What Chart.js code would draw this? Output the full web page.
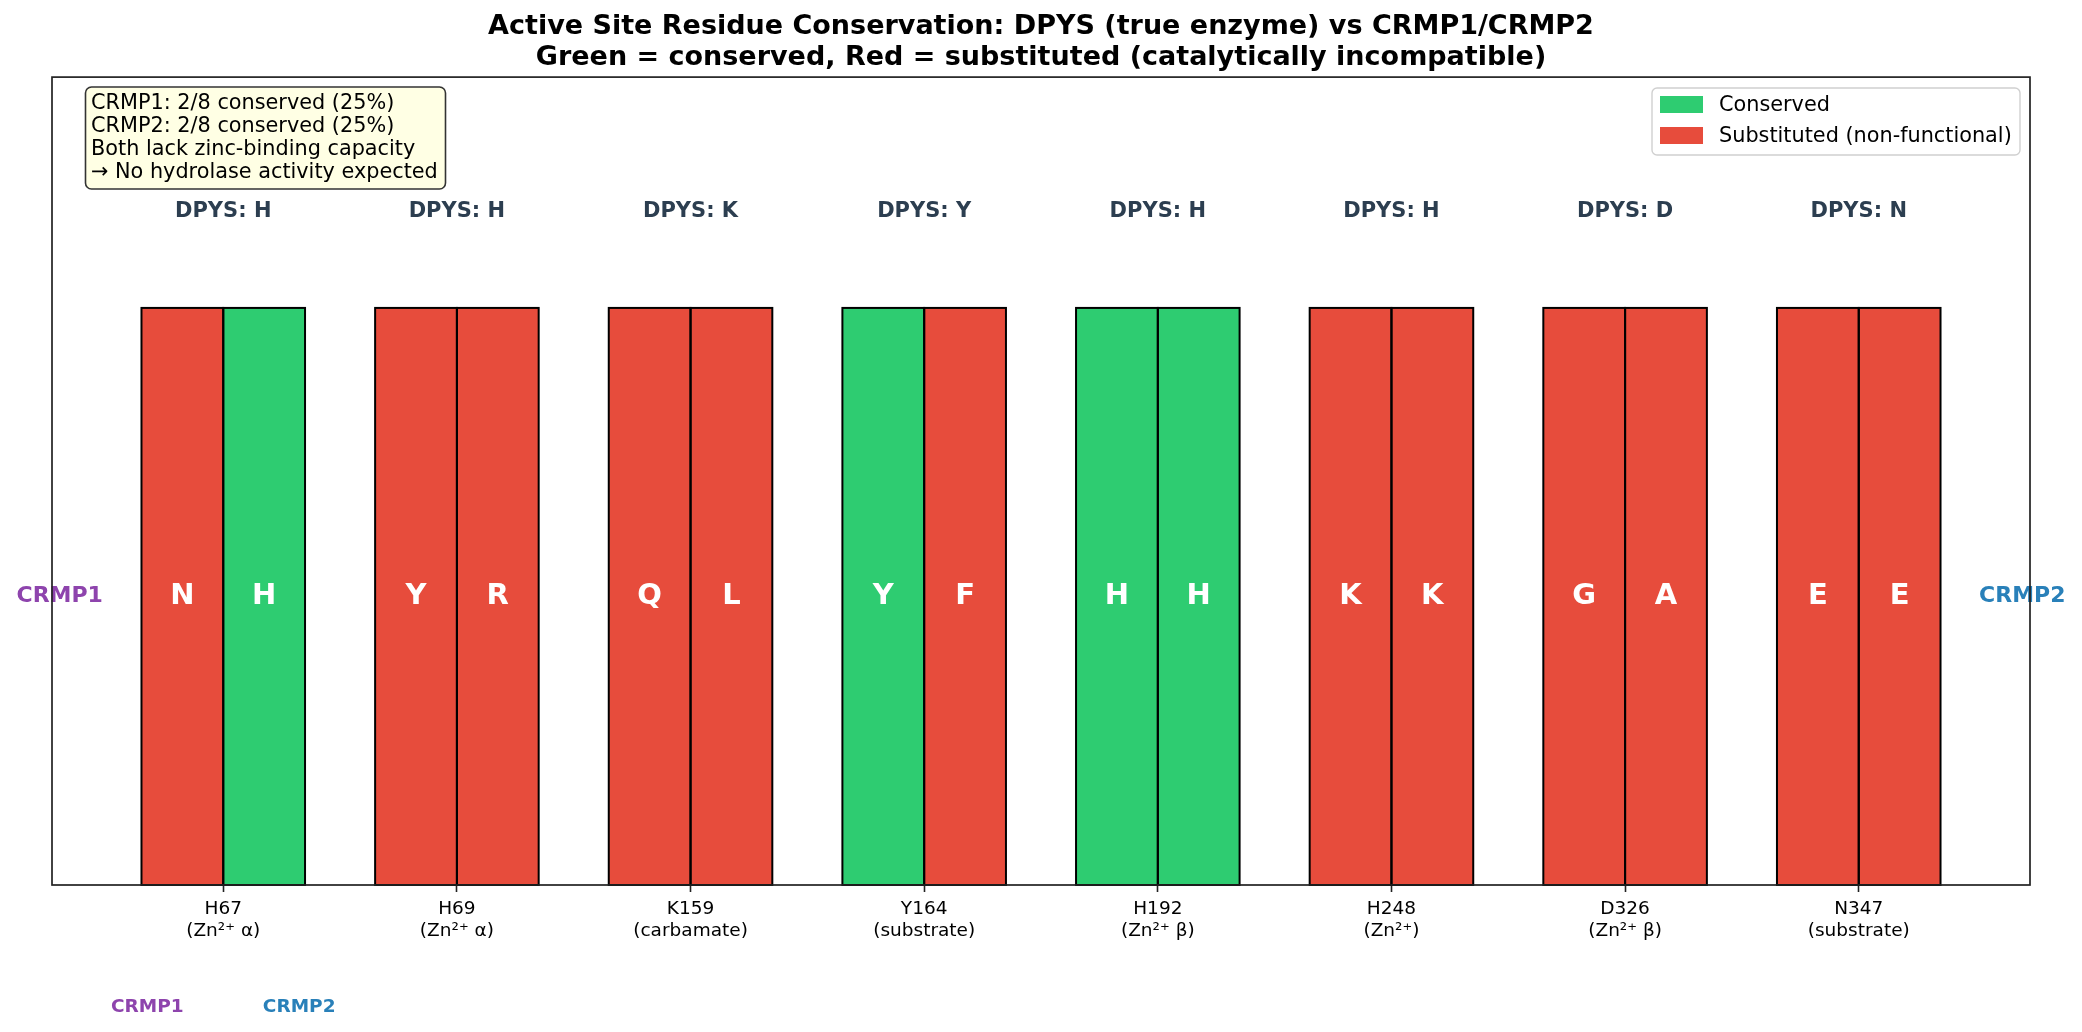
<!DOCTYPE html>
<html>
<head>
<meta charset="utf-8">
<script src="https://cdn.jsdelivr.net/npm/chart.js@4/dist/chart.umd.min.js"></script>
<style>
  html, body { margin: 0; padding: 0; background: #fff; }
  #wrap { width: 2082px; height: 1032px; }
</style>
</head>
<body>
<div id="wrap"><canvas id="chart" width="2082" height="1032"></canvas></div>
<script>
// residues of the DPYS active site and what CRMP1 / CRMP2 carry there
const RESIDUES = ['H67', 'H69', 'K159', 'Y164', 'H192', 'H248', 'D326', 'N347'];
const ROLES = ['(Zn²⁺ α)', '(Zn²⁺ α)', '(carbamate)', '(substrate)', '(Zn²⁺ β)', '(Zn²⁺)', '(Zn²⁺ β)', '(substrate)'];
const DPYS = ['H', 'H', 'K', 'Y', 'H', 'H', 'D', 'N'];
const CRMP1 = ['N', 'Y', 'Q', 'Y', 'H', 'K', 'G', 'E'];
const CRMP2 = ['H', 'R', 'L', 'F', 'H', 'K', 'A', 'E'];
const CRMP1_HEIGHT = [1, 1, 1, 1, 1, 1, 1, 1];
const CRMP2_HEIGHT = [1, 1, 1, 1, 1, 1, 1, 1];

const SUMMARY = [
    'CRMP1: 2/8 conserved (25%)',
    'CRMP2: 2/8 conserved (25%)',
    'Both lack zinc-binding capacity',
    '→ No hydrolase activity expected',
];
const LEGEND_LABELS = ['Conserved', 'Substituted (non-functional)'];

const GREEN = '#2ecc71';
const RED = '#e74c3c';
const PURPLE = '#8e44ad';
const BLUE = '#2980b9';
const NAVY = '#2c3e50';
const FONT = "'DejaVu Sans', sans-serif";

const colorFor = (seq) => seq.map((aa, i) => aa === DPYS[i] ? GREEN : RED);

const annotations = {
    id: 'annotations',
    afterDatasetsDraw(chart) {
        const ctx = chart.ctx;
        const x = chart.scales.x;
        const y = chart.scales.y;
        const meta1 = chart.getDatasetMeta(0);
        const meta2 = chart.getDatasetMeta(1);
        ctx.save();

        // bar outlines centred on the edges, so neighbours share one line
        ctx.strokeStyle = '#000';
        ctx.lineWidth = 2;
        [meta1, meta2].forEach(meta => meta.data.forEach(bar => {
            ctx.strokeRect(bar.x - bar.width / 2, bar.y, bar.width, bar.base - bar.y);
        }));

        ctx.textAlign = 'center';
        ctx.textBaseline = 'middle';

        // residue letters inside the bars
        ctx.fillStyle = '#fff';
        ctx.font = `bold 29px ${FONT}`;
        meta1.data.forEach((bar, i) => ctx.fillText(CRMP1[i], bar.x, y.getPixelForValue(0.5)));
        meta2.data.forEach((bar, i) => ctx.fillText(CRMP2[i], bar.x, y.getPixelForValue(0.5)));

        // DPYS residue over each pair
        ctx.fillStyle = NAVY;
        ctx.font = `bold 21px ${FONT}`;
        DPYS.forEach((aa, i) => ctx.fillText('DPYS: ' + aa, x.getPixelForValue(i), y.getPixelForValue(1.167)));

        // side labels
        ctx.font = `bold 22px ${FONT}`;
        ctx.fillStyle = PURPLE;
        ctx.fillText('CRMP1', x.getPixelForValue(-0.7), y.getPixelForValue(0.5));
        ctx.fillStyle = BLUE;
        ctx.fillText('CRMP2', x.getPixelForValue(7.7), y.getPixelForValue(0.5));

        // labels under the first pair
        ctx.font = `bold 18.5px ${FONT}`;
        ctx.fillStyle = PURPLE;
        ctx.fillText('CRMP1', x.getPixelForValue(-0.325), y.getPixelForValue(-0.211));
        ctx.fillStyle = BLUE;
        ctx.fillText('CRMP2', x.getPixelForValue(0.325), y.getPixelForValue(-0.211));
        ctx.restore();
    },
    afterDraw(chart) {
        const ctx = chart.ctx;
        const a = chart.chartArea;
        ctx.save();

        // axes frame
        ctx.strokeStyle = '#222';
        ctx.lineWidth = 1.7;
        ctx.strokeRect(a.left, a.top, a.right - a.left, a.bottom - a.top);

        // summary box
        const roundBox = (bx, by, bw, bh, r) => {
            ctx.beginPath();
            ctx.roundRect(bx, by, bw, bh, r);
            ctx.fill();
            ctx.stroke();
        };
        ctx.fillStyle = '#ffffe4';
        ctx.strokeStyle = '#333';
        ctx.lineWidth = 1.6;
        roundBox(85.5, 87, 360, 102, 6);
        ctx.fillStyle = '#000';
        ctx.font = `20.8px ${FONT}`;
        ctx.textAlign = 'left';
        ctx.textBaseline = 'middle';
        SUMMARY.forEach((line, i) => ctx.fillText(line, 91, 104 + i * 23));

        // legend
        ctx.fillStyle = 'rgba(255,255,255,0.9)';
        ctx.strokeStyle = '#d0d0d0';
        ctx.lineWidth = 1.4;
        roundBox(1652, 88, 368, 67, 5);
        ctx.font = `20.8px ${FONT}`;
        [GREEN, RED].forEach((c, i) => {
            ctx.fillStyle = c;
            ctx.fillRect(1660, 96 + i * 31, 43, 17);
            ctx.fillStyle = '#000';
            ctx.fillText(LEGEND_LABELS[i], 1719, 106 + i * 31);
        });
        ctx.restore();
    }
};

new Chart(
    document.getElementById('chart'),
    {
        type: 'bar',
        data: {
            datasets: [
                {
                    label: 'CRMP1',
                    data: CRMP1_HEIGHT.map((v, i) => ({ x: i, y: v })),
                    backgroundColor: colorFor(CRMP1),
                    borderWidth: 0,
                },
                {
                    label: 'CRMP2',
                    data: CRMP2_HEIGHT.map((v, i) => ({ x: i, y: v })),
                    backgroundColor: colorFor(CRMP2),
                    borderWidth: 0,
                },
            ]
        },
        options: {
            responsive: false,
            devicePixelRatio: 1,
            animation: false,
            categoryPercentage: 0.7,
            barPercentage: 1,
            layout: { padding: { left: 52, right: 52, top: 0, bottom: 0 } },
            scales: {
                x: {
                    type: 'linear',
                    min: -0.733,
                    max: 7.733,
                    offset: false,
                    afterBuildTicks: (scale) => {
                        scale.ticks = RESIDUES.map((_, i) => ({ value: i }));
                    },
                    afterFit: (scale) => { scale.height = 147; },
                    ticks: {
                        autoSkip: false,
                        maxRotation: 0,
                        padding: 6,
                        color: '#000',
                        font: { family: FONT, size: 18.5, lineHeight: 1.2 },
                        callback: (value) => [RESIDUES[value], ROLES[value]],
                    },
                    grid: {
                        offset: false,
                        drawOnChartArea: false,
                        drawTicks: true,
                        tickLength: 7,
                        tickWidth: 1.6,
                        tickColor: '#222',
                    },
                    border: { display: false },
                },
                y: {
                    display: false,
                    min: 0,
                    max: 1.4,
                },
            },
            plugins: {
                legend: { display: false },
                tooltip: { enabled: false },
                title: {
                    display: true,
                    text: [
                        'Active Site Residue Conservation: DPYS (true enzyme) vs CRMP1/CRMP2',
                        'Green = conserved, Red = substituted (catalytically incompatible)'
                    ],
                    color: '#000',
                    font: { family: FONT, size: 27, weight: 'bold', lineHeight: 1.15 },
                    padding: { top: 11, bottom: 4 },
                },
            },
        },
        plugins: [annotations],
    }
);
</script>
</body>
</html>
